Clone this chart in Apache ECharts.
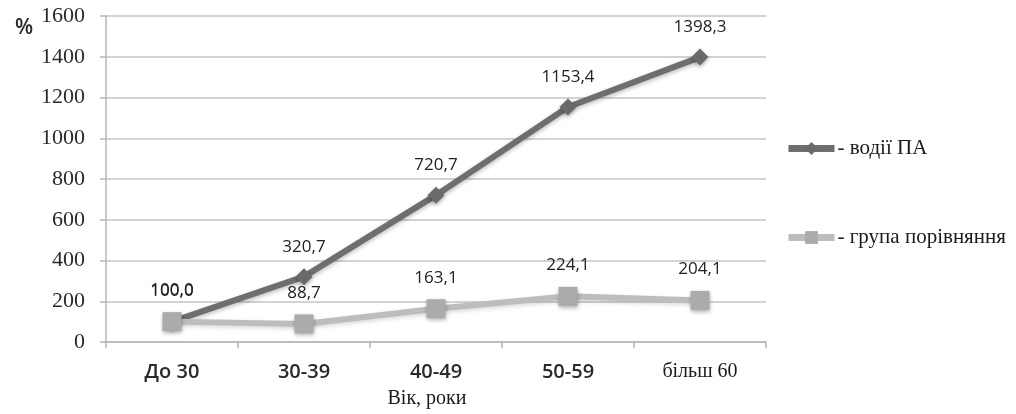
<!DOCTYPE html>
<html>
<head>
<meta charset="utf-8">
<script src="https://cdn.jsdelivr.net/npm/echarts@6/dist/echarts.min.js"></script>
<style>
  html, body { margin: 0; padding: 0; background: #fff; }
  #chart { width: 1016px; height: 414px; }
</style>
</head>
<body>
<div id="chart"></div>
<script>
// Age groups and relative values (%)
const categories = ['До 30', '30-39', '40-49', '50-59', 'більш 60'];
const driversPA = [100.0, 320.7, 720.7, 1153.4, 1398.3];
const comparisonGroup = [100.0, 88.7, 163.1, 224.1, 204.1];
const seriesNames = ['- водії ПА', '- група порівняння'];

const serif = '"Liberation Serif", "DejaVu Serif", serif';
const sans = '"Open Sans", "Noto Sans", sans-serif';

const fmt = v => v.toFixed(1).replace('.', ',');

const chart = echarts.init(document.getElementById('chart'));
chart.setOption({
  animation: false,
  backgroundColor: '#ffffff',
  grid: { left: 106, right: 250, top: 16, bottom: 71 },
  title: {
    text: '%', left: 10, top: 13,
    textStyle: { fontFamily: sans, fontSize: 21, fontWeight: 600, color: '#2a2a2a' }
  },
  legend: {
    orient: 'vertical', left: 780, top: 133, itemGap: 68,
    itemWidth: 46, itemHeight: 16,
    lineStyle: { width: 7 },
    textStyle: { fontFamily: serif, fontSize: 21, color: '#1a1a1a', padding: [0, 0, 0, -2] },
    data: seriesNames
  },
  xAxis: {
    type: 'category', data: categories, boundaryGap: true,
    name: 'Вік, роки', nameLocation: 'middle', nameGap: 47,
    nameTextStyle: { fontFamily: serif, fontSize: 20, color: '#1a1a1a', padding: [0, 0, 0, -18] },
    axisLine: { lineStyle: { color: '#b5b5b5', width: 1.5 } },
    axisTick: { show: true, length: 6, lineStyle: { color: '#b5b5b5', width: 1.5 } },
    axisLabel: {
      margin: 20,
      formatter: (v, i) => i === categories.length - 1 ? '{s|' + v + '}' : '{b|' + v + '}',
      rich: {
        b: { fontFamily: sans, fontSize: 20, fontWeight: 600, color: '#2a2a2a' },
        s: { fontFamily: serif, fontSize: 20, color: '#1a1a1a' }
      }
    }
  },
  yAxis: {
    type: 'value', min: 0, max: 1600, interval: 200,
    axisLine: { show: true, lineStyle: { color: '#b5b5b5', width: 1.5 } },
    axisTick: { show: true, length: 6, lineStyle: { color: '#b5b5b5', width: 1.5 } },
    splitLine: { lineStyle: { color: '#c4c4c4', width: 1.5 } },
    axisLabel: {
      margin: 21, fontFamily: serif, fontSize: 22, color: '#2a2a2a',
      formatter: v => String(v)
    }
  },
  series: [
    {
      name: seriesNames[0], type: 'line', data: driversPA,
      symbol: 'diamond', symbolSize: 17,
      lineStyle: { color: '#6e6e6e', width: 6, shadowColor: 'rgba(0,0,0,0.25)', shadowBlur: 4, shadowOffsetY: 2 },
      itemStyle: { color: '#6a6a6a', shadowColor: 'rgba(0,0,0,0.3)', shadowBlur: 4, shadowOffsetY: 2 },
      label: {
        show: true, position: 'top', distance: 13,
        formatter: p => fmt(p.value),
        fontFamily: sans, fontSize: 17, color: '#222'
      },
      z: 3
    },
    {
      name: seriesNames[1], type: 'line', data: comparisonGroup,
      symbol: 'rect', symbolSize: 19,
      lineStyle: { color: '#bdbdbd', width: 6, shadowColor: 'rgba(0,0,0,0.15)', shadowBlur: 4, shadowOffsetY: 2 },
      itemStyle: { color: '#ababab', shadowColor: 'rgba(0,0,0,0.3)', shadowBlur: 4, shadowOffsetY: 2 },
      label: {
        show: true, position: 'top', distance: 13,
        formatter: p => fmt(p.value),
        fontFamily: sans, fontSize: 17, color: '#222'
      },
      z: 4
    }
  ]
});
</script>
</body>
</html>
